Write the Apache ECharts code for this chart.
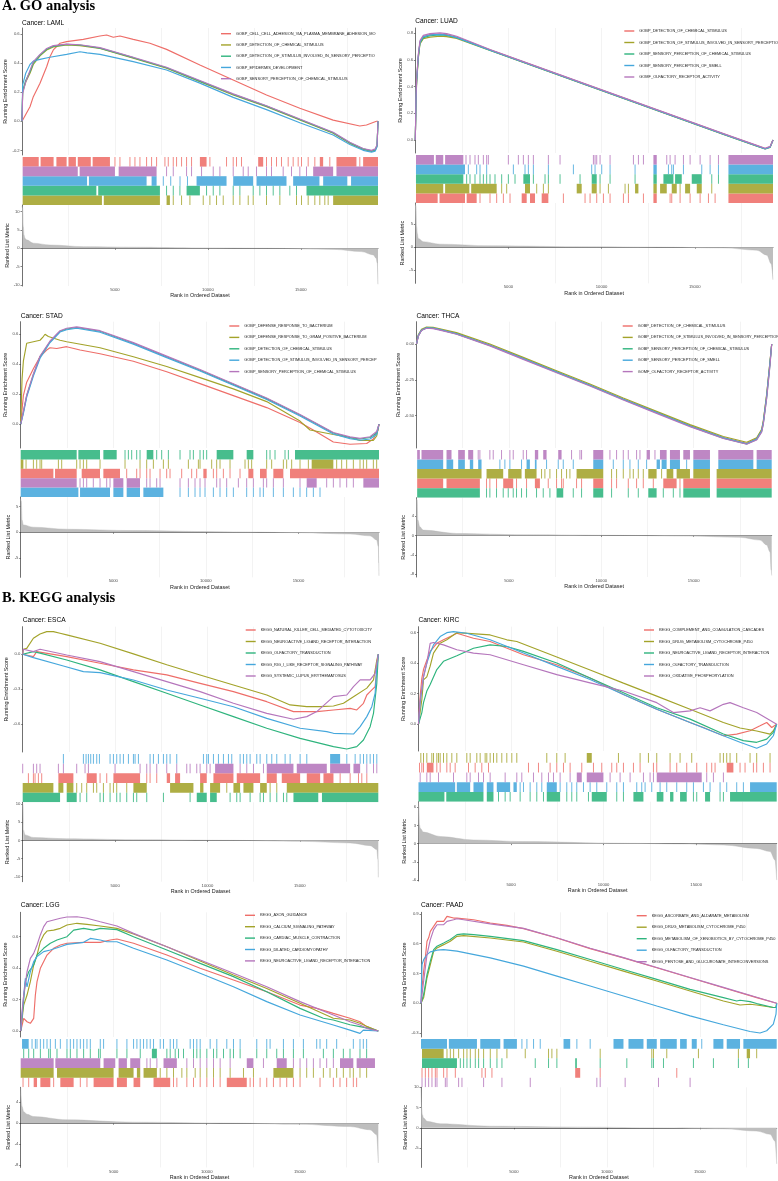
<!DOCTYPE html>
<html><head><meta charset="utf-8">
<script src="https://cdn.jsdelivr.net/npm/echarts@6/dist/echarts.min.js"></script>
<style>html,body{margin:0;padding:0;background:#fff}#c{width:778px;height:1181px}</style>
</head><body><div id="c"></div>
<script>
// ---------------- DATA ----------------
const CANCERS = ['LAML','LUAD','STAD','THCA','ESCA','KIRC','LGG','PAAD'];
const N_GENES = [19150,19200,19350,19225,19250,19350,19225,19140];
const X_TICKS = [5000,10000,15000];

const LAML_SETS = ['GOBP_CELL_CELL_ADHESION_VIA_PLASMA_MEMBRANE_ADHESION_MOLECULES','GOBP_DETECTION_OF_CHEMICAL_STIMULUS','GOBP_DETECTION_OF_STIMULUS_INVOLVED_IN_SENSORY_PERCEPTION','GOBP_EPIDERMIS_DEVELOPMENT','GOBP_SENSORY_PERCEPTION_OF_CHEMICAL_STIMULUS'];
const LUAD_SETS = ['GOBP_DETECTION_OF_CHEMICAL_STIMULUS','GOBP_DETECTION_OF_STIMULUS_INVOLVED_IN_SENSORY_PERCEPTION','GOBP_SENSORY_PERCEPTION_OF_CHEMICAL_STIMULUS','GOBP_SENSORY_PERCEPTION_OF_SMELL','GOMF_OLFACTORY_RECEPTOR_ACTIVITY'];
const STAD_SETS = ['GOBP_DEFENSE_RESPONSE_TO_BACTERIUM','GOBP_DEFENSE_RESPONSE_TO_GRAM_POSITIVE_BACTERIUM','GOBP_DETECTION_OF_CHEMICAL_STIMULUS','GOBP_DETECTION_OF_STIMULUS_INVOLVED_IN_SENSORY_PERCEPTION','GOBP_SENSORY_PERCEPTION_OF_CHEMICAL_STIMULUS'];
const THCA_SETS = ['GOBP_DETECTION_OF_CHEMICAL_STIMULUS','GOBP_DETECTION_OF_STIMULUS_INVOLVED_IN_SENSORY_PERCEPTION','GOBP_SENSORY_PERCEPTION_OF_CHEMICAL_STIMULUS','GOBP_SENSORY_PERCEPTION_OF_SMELL','GOMF_OLFACTORY_RECEPTOR_ACTIVITY'];
const ESCA_SETS = ['KEGG_NATURAL_KILLER_CELL_MEDIATED_CYTOTOXICITY','KEGG_NEUROACTIVE_LIGAND_RECEPTOR_INTERACTION','KEGG_OLFACTORY_TRANSDUCTION','KEGG_RIG_I_LIKE_RECEPTOR_SIGNALING_PATHWAY','KEGG_SYSTEMIC_LUPUS_ERYTHEMATOSUS'];
const KIRC_SETS = ['KEGG_COMPLEMENT_AND_COAGULATION_CASCADES','KEGG_DRUG_METABOLISM_CYTOCHROME_P450','KEGG_NEUROACTIVE_LIGAND_RECEPTOR_INTERACTION','KEGG_OLFACTORY_TRANSDUCTION','KEGG_OXIDATIVE_PHOSPHORYLATION'];
const LGG_SETS = ['KEGG_AXON_GUIDANCE','KEGG_CALCIUM_SIGNALING_PATHWAY','KEGG_CARDIAC_MUSCLE_CONTRACTION','KEGG_DILATED_CARDIOMYOPATHY','KEGG_NEUROACTIVE_LIGAND_RECEPTOR_INTERACTION'];
const PAAD_SETS = ['KEGG_ASCORBATE_AND_ALDARATE_METABOLISM','KEGG_DRUG_METABOLISM_CYTOCHROME_P450','KEGG_METABOLISM_OF_XENOBIOTICS_BY_CYTOCHROME_P450','KEGG_OLFACTORY_TRANSDUCTION','KEGG_PENTOSE_AND_GLUCURONATE_INTERCONVERSIONS'];

// tick labels
const LAML_ES_TICKS=[-0.2,0,0.2,0.4,0.6], LUAD_ES_TICKS=[0,0.2,0.4,0.6,0.8], STAD_ES_TICKS=[0,0.2,0.4,0.6], THCA_ES_TICKS=[-0.5,-0.25,0];
const ESCA_ES_TICKS=[-0.6,-0.3,0], KIRC_ES_TICKS=[0,0.2,0.4,0.6], LGG_ES_TICKS=[0,0.2,0.4,0.6], PAAD_ES_TICKS=[-0.3,0,0.3,0.6,0.9];
const LAML_MET_TICKS=[-10,-5,0,5,10], LUAD_MET_TICKS=[-5,0,5], STAD_MET_TICKS=[-5,0,5], THCA_MET_TICKS=[-8,-4,0,4];
const ESCA_MET_TICKS=[-10,-5,0,5,10], KIRC_MET_TICKS=[-6,-3,0,3,6], LGG_MET_TICKS=[-8,-4,0,4], PAAD_MET_TICKS=[-5,0,5,10];

// running enrichment score curves [rank, ES]
const LAML_ES_RED=[[0,0],[72,0.008],[430,0.1],[609,0.169],[968,0.261],[1326,0.375],[1505,0.444],[1684,0.49],[2043,0.536],[2401,0.547],[3297,0.563],[4193,0.586],[4552,0.593],[4910,0.577],[5268,0.586],[5985,0.563],[6881,0.536],[7777,0.494],[9569,0.387],[11361,0.283],[13153,0.18],[14945,0.089],[16737,0.008],[18171,-0.033],[18530,-0.026],[19067,0.0],[19150,0]];
const LAML_ES_OLIVE=[[0,0],[36,0.2],[200,0.27],[430,0.33],[609,0.39],[968,0.45],[1326,0.49],[1684,0.51],[2401,0.525],[3118,0.52],[4193,0.5],[5985,0.433],[7777,0.364],[9569,0.272],[11361,0.18],[13153,0.1],[14945,0.008],[16737,-0.083],[17633,-0.152],[18350,-0.194],[18800,-0.208],[19000,-0.2],[19100,-0.17],[19150,0]];
const LAML_ES_GREEN=[[0,0],[36,0.21],[200,0.28],[430,0.34],[609,0.4],[968,0.455],[1326,0.495],[1684,0.515],[2401,0.528],[3118,0.524],[4193,0.503],[5985,0.437],[7777,0.368],[9569,0.276],[11361,0.185],[13153,0.104],[14945,0.012],[16737,-0.079],[17633,-0.148],[18350,-0.19],[18800,-0.204],[19000,-0.196],[19100,-0.165],[19150,0]];
const LAML_ES_BLUE=[[0,0],[36,0.25],[200,0.33],[430,0.39],[609,0.414],[968,0.425],[1500,0.44],[2401,0.46],[3118,0.478],[3500,0.47],[4193,0.46],[5985,0.41],[7777,0.352],[9569,0.262],[11361,0.164],[13153,0.08],[14945,-0.01],[16737,-0.095],[17633,-0.16],[18350,-0.2],[18800,-0.212],[19000,-0.205],[19100,-0.175],[19150,0]];
const LAML_ES_PURPLE=[[0,0],[36,0.19],[200,0.27],[430,0.35],[609,0.41],[968,0.46],[1326,0.5],[1684,0.52],[2401,0.53],[3118,0.526],[4193,0.506],[5985,0.44],[7777,0.371],[9569,0.28],[11361,0.188],[13153,0.107],[14945,0.015],[16737,-0.076],[17633,-0.145],[18350,-0.187],[18800,-0.2],[19000,-0.19],[19100,-0.16],[19150,0]];

const LUAD_ES_RED=[[0,0],[36,0.3],[72,0.45],[161,0.63],[251,0.735],[430,0.775],[788,0.79],[1325,0.795],[1683,0.79],[2220,0.772],[4010,0.677],[5800,0.587],[7590,0.497],[9380,0.407],[11170,0.317],[12960,0.227],[14750,0.137],[16540,0.047],[18330,-0.041],[18777,-0.064],[19046,-0.05],[19200,0]];
const LUAD_ES_OLIVE=[[0,0],[36,0.28],[72,0.43],[161,0.61],[251,0.72],[430,0.76],[788,0.772],[1325,0.778],[1683,0.775],[2220,0.762],[4010,0.672],[5800,0.582],[7590,0.492],[9380,0.402],[11170,0.312],[12960,0.222],[14750,0.132],[16540,0.042],[18330,-0.046],[18777,-0.068],[19046,-0.055],[19200,0]];
const LUAD_ES_GREEN=[[0,0],[36,0.29],[72,0.44],[161,0.62],[251,0.728],[430,0.768],[788,0.782],[1325,0.788],[1683,0.784],[2220,0.768],[4010,0.674],[5800,0.584],[7590,0.494],[9380,0.404],[11170,0.314],[12960,0.224],[14750,0.134],[16540,0.044],[18330,-0.044],[18777,-0.066],[19046,-0.053],[19200,0]];
const LUAD_ES_BLUE=[[0,0],[36,0.3],[72,0.45],[161,0.63],[251,0.735],[430,0.775],[788,0.788],[1325,0.792],[1683,0.787],[2220,0.768],[4010,0.673],[5800,0.583],[7590,0.493],[9380,0.403],[11170,0.313],[12960,0.223],[14750,0.133],[16540,0.043],[18330,-0.045],[18777,-0.067],[19046,-0.054],[19200,0]];
const LUAD_ES_PURPLE=[[0,0],[36,0.31],[72,0.46],[161,0.64],[251,0.745],[430,0.785],[788,0.798],[1325,0.803],[1683,0.798],[2220,0.778],[4010,0.679],[5800,0.588],[7590,0.498],[9380,0.408],[11170,0.318],[12960,0.228],[14750,0.138],[16540,0.048],[18330,-0.04],[18777,-0.062],[19046,-0.048],[19200,0]];

const STAD_ES_RED=[[0,0],[144,0.19],[324,0.28],[684,0.37],[1044,0.45],[1404,0.495],[1584,0.51],[1944,0.505],[2484,0.517],[3204,0.495],[4284,0.47],[6084,0.42],[7884,0.35],[9684,0.27],[11484,0.19],[13284,0.11],[15084,0.01],[15800,-0.04],[16884,-0.12],[17784,-0.135],[18684,-0.13],[19044,-0.1],[19300,-0.04],[19350,0]];
const STAD_ES_OLIVE=[[0,0],[72,0.3],[144,0.42],[324,0.54],[684,0.55],[1044,0.56],[1224,0.585],[1314,0.6],[1494,0.585],[1584,0.575],[2124,0.56],[2484,0.55],[3384,0.53],[4284,0.51],[5184,0.48],[6084,0.45],[7884,0.385],[9684,0.31],[11484,0.235],[13284,0.15],[15084,0.02],[15624,-0.04],[16884,-0.07],[17784,-0.09],[18324,-0.11],[19044,-0.11],[19224,-0.08],[19350,0]];
const STAD_ES_GREEN=[[0,0],[144,0.08],[324,0.19],[684,0.33],[1044,0.45],[1584,0.55],[2124,0.62],[2484,0.635],[3024,0.645],[4284,0.62],[6084,0.54],[7884,0.45],[9684,0.36],[11484,0.265],[13284,0.17],[15084,0.06],[16884,-0.06],[17784,-0.09],[18324,-0.1],[18864,-0.09],[19224,-0.06],[19350,0]];
const STAD_ES_BLUE=[[0,0],[144,0.07],[324,0.18],[684,0.32],[1044,0.44],[1584,0.545],[2124,0.615],[2484,0.63],[3024,0.64],[4284,0.614],[6084,0.534],[7884,0.444],[9684,0.354],[11484,0.259],[13284,0.164],[15084,0.054],[16884,-0.066],[17784,-0.097],[18324,-0.108],[18864,-0.1],[19224,-0.07],[19350,0]];
const STAD_ES_PURPLE=[[0,0],[144,0.085],[324,0.195],[684,0.335],[1044,0.455],[1584,0.555],[2124,0.624],[2484,0.64],[3024,0.649],[4284,0.624],[6084,0.544],[7884,0.454],[9684,0.364],[11484,0.269],[13284,0.174],[15084,0.064],[16884,-0.056],[17784,-0.086],[18324,-0.096],[18864,-0.085],[19224,-0.05],[19350,0]];

const THCA_ES_RED=[[0,0],[100,0.06],[271,0.098],[541,0.114],[900,0.112],[1264,0.102],[2166,0.074],[3971,-0.007],[5776,-0.1],[7581,-0.193],[9386,-0.286],[11191,-0.384],[12996,-0.477],[14801,-0.57],[16606,-0.653],[17870,-0.693],[18411,-0.66],[18682,-0.6],[18772,-0.54],[18953,-0.356],[19133,-0.123],[19225,0]];
const THCA_ES_OLIVE=[[0,0],[100,0.065],[271,0.103],[541,0.118],[900,0.116],[1264,0.107],[2166,0.08],[3971,0.0],[5776,-0.093],[7581,-0.186],[9386,-0.279],[11191,-0.377],[12996,-0.47],[14801,-0.563],[16606,-0.646],[17870,-0.686],[18411,-0.655],[18682,-0.595],[18772,-0.535],[18953,-0.35],[19133,-0.12],[19225,0]];
const THCA_ES_GREEN=[[0,0],[100,0.058],[271,0.096],[541,0.112],[900,0.11],[1264,0.1],[2166,0.071],[3971,-0.01],[5776,-0.103],[7581,-0.196],[9386,-0.289],[11191,-0.387],[12996,-0.48],[14801,-0.573],[16606,-0.657],[17870,-0.698],[18411,-0.667],[18682,-0.61],[18772,-0.555],[18953,-0.375],[19133,-0.14],[19225,0]];
const THCA_ES_BLUE=[[0,0],[100,0.059],[271,0.097],[541,0.113],[900,0.111],[1264,0.101],[2166,0.072],[3971,-0.009],[5776,-0.102],[7581,-0.195],[9386,-0.288],[11191,-0.386],[12996,-0.479],[14801,-0.572],[16606,-0.655],[17870,-0.696],[18411,-0.664],[18682,-0.605],[18772,-0.545],[18953,-0.36],[19133,-0.128],[19225,0]];
const THCA_ES_PURPLE=[[0,0],[100,0.055],[271,0.094],[541,0.11],[900,0.108],[1264,0.097],[2166,0.068],[3971,-0.013],[5776,-0.107],[7581,-0.2],[9386,-0.293],[11191,-0.391],[12996,-0.484],[14801,-0.577],[16606,-0.66],[17870,-0.7],[18411,-0.67],[18682,-0.615],[18772,-0.56],[18953,-0.38],[19133,-0.15],[19225,0]];

const ESCA_ES_RED=[[0,0],[36,0.01],[578,-0.02],[758,0.023],[2383,-0.02],[4188,-0.077],[5993,-0.134],[7798,-0.177],[9603,-0.249],[11408,-0.32],[13213,-0.406],[14657,-0.491],[15920,-0.491],[16823,-0.477],[17725,-0.463],[18086,-0.477],[18447,-0.42],[18628,-0.349],[18808,-0.32],[19079,-0.277],[19169,-0.134],[19250,0]];
const ESCA_ES_OLIVE=[[0,0],[36,0.043],[217,0.05],[578,0.137],[939,0.174],[1300,0.194],[1661,0.194],[2022,0.18],[2383,0.166],[4188,0.094],[5993,0.003],[7798,-0.09],[9603,-0.177],[11408,-0.263],[13213,-0.349],[14476,-0.434],[15379,-0.449],[16101,-0.449],[16823,-0.443],[17364,-0.42],[17906,-0.363],[18628,-0.29],[18989,-0.22],[19169,-0.05],[19250,0]];
const ESCA_ES_GREEN=[[0,0],[578,0.023],[939,0.01],[2383,-0.049],[4188,-0.134],[5993,-0.234],[7798,-0.334],[9603,-0.434],[11408,-0.534],[13213,-0.634],[15018,-0.72],[16823,-0.791],[17545,-0.811],[18086,-0.791],[18447,-0.734],[18808,-0.62],[18989,-0.506],[19169,-0.249],[19250,0]];
const ESCA_ES_BLUE=[[0,0],[578,-0.029],[2202,-0.1],[3285,-0.149],[4188,-0.157],[5993,-0.22],[7798,-0.306],[9603,-0.377],[11408,-0.449],[13213,-0.549],[15018,-0.634],[16462,-0.663],[16823,-0.677],[17906,-0.683],[18267,-0.62],[18628,-0.534],[18898,-0.449],[19079,-0.334],[19169,-0.106],[19250,0]];
const ESCA_ES_PURPLE=[[0,0],[36,0.043],[578,0.023],[939,0.043],[2383,-0.006],[4188,-0.063],[5993,-0.149],[7798,-0.234],[9603,-0.32],[11408,-0.42],[13213,-0.506],[14657,-0.557],[15379,-0.534],[15920,-0.491],[16823,-0.363],[17545,-0.349],[17906,-0.277],[18267,-0.22],[18808,-0.22],[19079,-0.163],[19169,-0.077],[19250,0]];

const KIRC_ES_RED=[[0,0],[90,0.184],[180,0.3],[270,0.358],[450,0.42],[630,0.477],[990,0.53],[1350,0.553],[1890,0.585],[2070,0.596],[2970,0.563],[3870,0.542],[5670,0.455],[7470,0.39],[9270,0.303],[11070,0.195],[12870,0.098],[14670,0.011],[15390,-0.022],[16470,-0.076],[17190,-0.065],[17910,-0.043],[18450,-0.011],[18810,0.011],[19080,-0.022],[19350,0]];
const KIRC_ES_OLIVE=[[0,0],[180,0.16],[270,0.29],[450,0.31],[630,0.38],[810,0.466],[1170,0.531],[1530,0.553],[1890,0.585],[2070,0.6],[3870,0.585],[4770,0.553],[5310,0.542],[7470,0.44],[9270,0.355],[11070,0.269],[12870,0.184],[14670,0.098],[16470,0.011],[17370,-0.025],[18270,-0.045],[18990,-0.065],[19170,-0.043],[19350,0]];
const KIRC_ES_GREEN=[[0,0],[180,0.076],[270,0.141],[450,0.217],[630,0.26],[990,0.358],[1350,0.412],[2070,0.449],[2970,0.498],[3870,0.52],[4770,0.509],[5670,0.477],[7470,0.401],[9270,0.303],[11070,0.206],[12870,0.108],[14670,0.033],[16470,-0.065],[17550,-0.108],[18270,-0.119],[18810,-0.098],[19170,-0.054],[19350,0]];
const KIRC_ES_BLUE=[[0,0],[90,0.14],[270,0.31],[450,0.4],[630,0.466],[810,0.52],[1170,0.574],[1530,0.6],[1890,0.607],[2610,0.596],[3870,0.553],[5670,0.466],[7470,0.379],[9270,0.293],[11070,0.195],[12870,0.098],[14670,0.011],[16470,-0.076],[17370,-0.119],[18270,-0.158],[18810,-0.13],[19170,-0.076],[19350,0]];
const KIRC_ES_PURPLE=[[0,0],[90,0.16],[270,0.31],[450,0.4],[630,0.53],[810,0.535],[1350,0.52],[2070,0.488],[2970,0.466],[3870,0.455],[5670,0.39],[7470,0.325],[9270,0.271],[11070,0.217],[12870,0.141],[13770,0.076],[14670,0.087],[15210,0.108],[15750,0.087],[16470,0.13],[16830,0.141],[17550,0.108],[18270,0.076],[19350,0]];

const LGG_ES_RED=[[0,0],[161,0.08],[340,0.059],[519,0.049],[698,0.08],[788,0.229],[877,0.314],[1056,0.399],[1414,0.483],[1772,0.526],[2130,0.547],[2488,0.558],[3383,0.564],[4278,0.564],[4815,0.579],[5173,0.585],[6068,0.558],[7858,0.483],[9648,0.399],[11438,0.324],[13228,0.25],[15018,0.165],[15913,0.144],[16808,0.112],[17703,0.081],[18240,0.059],[18598,0.028],[19225,0]];
const LGG_ES_OLIVE=[[0,0],[161,0.165],[340,0.229],[519,0.314],[698,0.42],[877,0.483],[1056,0.568],[1235,0.611],[1414,0.636],[1772,0.642],[2130,0.653],[2488,0.674],[3025,0.685],[3562,0.678],[4278,0.668],[5173,0.653],[6068,0.617],[7858,0.536],[9648,0.445],[11438,0.356],[13228,0.271],[15018,0.176],[16808,0.081],[17703,0.07],[18240,0.049],[18598,0.03],[19225,0]];
const LGG_ES_GREEN=[[0,0],[161,0.2],[251,0.314],[430,0.377],[698,0.42],[877,0.483],[1235,0.526],[1593,0.558],[1951,0.579],[2488,0.6],[2846,0.642],[3383,0.653],[3920,0.642],[4278,0.653],[5173,0.645],[6068,0.6],[7858,0.515],[9648,0.43],[11438,0.346],[13228,0.25],[15018,0.144],[16271,0.081],[16808,0.07],[17703,0.04],[18240,0.028],[18598,0.02],[19225,0]];
const LGG_ES_BLUE=[[0,0],[72,0.1],[161,0.229],[251,0.335],[340,0.28],[519,0.377],[698,0.441],[877,0.473],[1235,0.505],[1593,0.515],[2130,0.536],[2488,0.551],[3383,0.564],[3741,0.589],[4278,0.579],[4636,0.568],[5173,0.568],[6068,0.526],[7858,0.452],[9648,0.367],[11438,0.282],[13228,0.187],[15018,0.102],[16808,0.038],[17703,0.006],[18240,-0.015],[18419,0.006],[19225,0]];
const LGG_ES_PURPLE=[[0,0],[72,0.123],[161,0.229],[340,0.377],[519,0.462],[698,0.494],[877,0.547],[1056,0.611],[1235,0.664],[1414,0.695],[1772,0.706],[2130,0.717],[2488,0.725],[3025,0.727],[3562,0.717],[4278,0.695],[5173,0.668],[6068,0.621],[7858,0.536],[9648,0.452],[11438,0.367],[13228,0.282],[15018,0.187],[16808,0.102],[17703,0.059],[18240,0.038],[18598,0.017],[19225,0]];

const PAAD_ES_RED=[[0,0],[54,0.157],[143,0.324],[233,0.46],[323,0.625],[412,0.66],[502,0.725],[681,0.775],[860,0.826],[1219,0.826],[1398,0.876],[1756,0.859],[1935,0.859],[2831,0.842],[3727,0.809],[4623,0.785],[5519,0.752],[7311,0.658],[9103,0.551],[10895,0.458],[12687,0.358],[14479,0.257],[16271,0.157],[18063,0.057],[19140,0]];
const PAAD_ES_OLIVE=[[0,0],[143,0.057],[323,0.257],[502,0.39],[681,0.524],[860,0.558],[1219,0.591],[1577,0.625],[1935,0.675],[2294,0.682],[3727,0.658],[5519,0.618],[7311,0.525],[9103,0.424],[10895,0.324],[12687,0.224],[14479,0.124],[16271,0.023],[17167,-0.017],[17705,-0.01],[18063,-0.017],[18959,-0.043],[19100,-0.04],[19140,0]];
const PAAD_ES_GREEN=[[0,0],[143,0.09],[323,0.29],[502,0.424],[681,0.541],[860,0.575],[1219,0.608],[1577,0.642],[1935,0.692],[2294,0.699],[2831,0.692],[3727,0.675],[5519,0.632],[7311,0.541],[9103,0.441],[10895,0.341],[12687,0.241],[14479,0.14],[16271,0.057],[16988,0.023],[17167,0.03],[17705,0.017],[18063,-0.003],[18959,-0.043],[19100,-0.043],[19140,0]];
const PAAD_ES_BLUE=[[0,0],[54,0.39],[143,0.44],[323,0.49],[502,0.518],[860,0.535],[1219,0.541],[1935,0.525],[3727,0.458],[5519,0.374],[7311,0.274],[9103,0.174],[10895,0.074],[12687,-0.027],[14479,-0.127],[16271,-0.217],[17705,-0.284],[18243,-0.3],[18601,-0.277],[18959,-0.21],[19102,-0.11],[19140,0]];
const PAAD_ES_PURPLE=[[0,0],[143,0.224],[323,0.49],[502,0.642],[681,0.742],[860,0.792],[1219,0.792],[1398,0.826],[1756,0.842],[1935,0.852],[2294,0.842],[3727,0.8],[5519,0.755],[7311,0.66],[9103,0.555],[10895,0.46],[12687,0.36],[14479,0.26],[16271,0.16],[18063,0.06],[19140,0]];

// gene-set hits (rank, or [first rank, last rank] of a dense run)
const LAML_HITS_RED=[[36,900],[1000,1700],[1850,2400],[2500,2900],[3000,3700],[3800,4731],5000,5268,5806,6075,6344,6702,6971,7240,7688,7867,8136,8315,8584,8853,9121,[9569,9928],10107,11003,11361,11540,11809,[12705,12974],13153,13422,13691,13960,14318,14586,14855,15035,15393,15752,[16020,16199],16558,[16916,17991],18171,[18350,19150]];
const LAML_HITS_PURPLE=[[36,3000],[3100,5000],[5200,7240],7777,8136,8853,9121,9659,10286,10644,11361,11899,12168,12616,13153,13422,14049,14497,14945,15304,[15662,16737],[16916,19150]];
const LAML_HITS_BLUE=[[36,3500],[3600,6702],[6971,7240],7600,8000,8500,8900,[9390,11003],[11361,12436],[12616,14228],[14586,16000],[16200,17500],[17700,19150]];
const LAML_HITS_GREEN=[[36,4000],[4100,7419],7777,8136,8494,[8853,9569],9928,10286,10644,11361,11720,12436,12795,13153,13512,13870,14407,14766,[15304,19150]];
const LAML_HITS_OLIVE=[[36,4300],[4400,7419],[7777,7956],8136,8584,9032,9748,10107,10465,10824,11361,11720,12168,12436,13153,13870,14766,15035,15393,15752,16020,16289,16468,[16737,19150]];

const LUAD_HITS_RED=[[36,1200],[1300,2667],[2757,3294],3473,4010,4368,4726,5084,[5710,5979],[6158,6426],[6784,7142],7948,9111,9380,9738,10096,10454,11170,11438,12244,[12781,12960],13676,13765,14213,14750,15287,15734,16092,[16808,19200]];
const LUAD_HITS_OLIVE=[[36,1500],[1600,2900],[3000,4368],4636,4905,[5889,6158],6516,6874,7142,[8664,8932],[9469,9738],9917,10364,11259,11438,[11796,11975],[12781,12960],[13139,13497],[13765,14034],14213,[14482,14750],[15108,15376],15913,[16808,19200]];
const LUAD_HITS_GREEN=[[36,2578],2757,2936,3204,3473,3652,3831,4010,4278,4636,4994,5352,[5800,6158],6337,6963,7142,7769,8843,[9469,9738],9917,10454,11796,[12781,12960],[13318,13855],[13944,14302],[14839,15376],15913,16271,[16808,19200]];
const LUAD_HITS_BLUE=[[36,2667],2846,3294,3473,3831,5263,5889,6068,6337,7142,8485,9469,9648,10006,10454,11796,[12781,12960],13586,13765,13855,14392,15376,15824,16271,[16808,19200]];
const LUAD_HITS_PURPLE=[[36,1000],[1100,1500],[1600,2578],2721,2936,3204,3383,3652,3831,3920,4994,5531,5800,6068,6337,7142,7769,9559,9648,9738,9917,10454,11707,11975,12244,[12781,12960],13497,13676,13944,14392,14750,15287,15824,16271,[16808,19200]];

const STAD_HITS_RED=[[0,1764],[1854,3024],[3294,4284],[4464,5364],5724,6264,6444,6804,6984,7524,7884,8064,8694,9234,9504,[9864,10044],10404,10584,10944,11304,11844,[12294,12564],[12924,13284],[13644,14184],[14544,19350]];
const STAD_HITS_OLIVE=[[0,144],288,684,864,1044,1134,2034,2214,3024,3204,3384,3564,4284,5634,6444,6804,7164,7704,7974,9054,9594,9684,10314,10584,10764,11304,12114,12294,12474,13284,13554,14184,14364,14634,15084,15534,[15714,16884],17064,17334,17604,17964,18324,18504,18684,19044,19224];
const STAD_HITS_GREEN=[[0,3024],[3114,4284],[4464,5184],5634,5814,5994,6264,6444,[6804,7164],7344,7614,7974,8604,9144,9324,9684,9864,10044,[10584,11484],[12204,12564],13284,13464,13734,14274,14454,[14814,19350]];
const STAD_HITS_BLUE=[[0,3114],[3204,4824],[5004,5544],[5724,6444],[6624,7704],8604,9054,9414,9684,9954,10404,10764,11124,11484,12204,12564,12924,13104,13644,14184,14724,15084,15444,15804,16164];
const STAD_HITS_PURPLE=[[0,3024],3204,3384,3564,3920,4284,4644,4824,[5004,5544],[5724,6444],6804,6984,7344,7524,8604,9054,9414,9684,9954,10584,10764,11124,11754,12204,12564,13104,13284,13644,14184,15084,[15444,15984],16524,16884,17244,17604,17964,[18504,19350]];

const THCA_HITS_RED=[[36,1444],[1625,3430],3791,3971,4332,[4693,5235],5415,5957,[6408,6679],7130,7581,7852,7942,8664,8935,[9567,10108],10559,10830,11462,11913,12274,12816,[13357,14079],14260,[14440,15884],[16245,19225]];
const THCA_HITS_OLIVE=[[36,3520],[3791,4693],[4964,5686],[5866,6498],6769,6949,7220,7581,7852,8123,8303,[8664,10108],10559,10830,11191,11552,11733,12003,12274,[12545,12996],13267,[13538,13899],[14079,14801],[14982,15884],[16245,19225]];
const THCA_HITS_GREEN=[[36,3430],3791,3971,4332,4693,4964,5235,5415,5686,5957,6498,6859,7220,[7581,7942],8484,8935,[9567,10108],10559,11462,12003,[12545,12996],13357,13899,14260,[14440,15884],[16245,19225]];
const THCA_HITS_BLUE=[[36,1444],[1625,1986],[2256,2617],[2888,3069],[3339,3520],4513,4783,5054,5686,[5957,6137],[6408,6498],7040,7671,7942,8484,[9567,10108],10650,11191,11552,12003,12455,[12996,13177],[13267,13538],[13718,14260],14621,[14982,15884],[16335,18231],[18411,19225]];
const THCA_HITS_PURPLE=[[36,181],[271,1444],[1625,1895],[2256,2617],[2798,3069],3339,3430,3971,4152,4603,5054,5235,5776,5957,[6408,6588],[6859,7040],[7671,7852],8393,8845,8935,[9567,10108],10469,10830,11191,11462,11913,12094,[12455,12635],12906,[13177,13538],[13718,14260],[14440,14801],[14982,15884],[16335,18231],[18411,19225]];

const ESCA_HITS_RED=[307,578,668,848,1029,[1931,2744],[3466,4007],4188,4549,[4910,6354],6715,6895,7256,[7798,7978],[8249,8520],[9603,9964],[10325,11408],[11588,12852],[13213,13754],[14025,15018],[15379,16101],[16281,16823],17184,17725,18176,18357,18628];
const ESCA_HITS_OLIVE=[[0,1661],[1931,2202],[2383,2744],2924,3195,3466,3827,4007,4368,4729,4910,5090,5632,[5993,6715],[7978,9242],[9603,9783],[10144,10686],11047,[11408,11769],[11949,12491],[12852,13213],13393,13754,[14296,19250]];
const ESCA_HITS_GREEN=[[0,2022],[2383,2924],3105,3466,4188,4368,4729,5090,5271,5632,5993,6173,6715,7617,9061,[9422,9964],[10144,10505],11227,11588,11769,12310,12852,13032,13393,13754,14115,14296,[14657,16000],[16200,19250]];
const ESCA_HITS_BLUE=[2202,3285,3430,3556,3682,3827,4007,4152,4729,4910,5090,5271,5451,5722,5993,6083,6263,6895,7076,7346,7617,7798,7978,8339,9783,9964,10054,10325,10595,10866,11137,11317,11769,11949,12130,12310,12671,12852,13213,13483,13754,14205,14476,15018,15379,[16642,17184],17545,17996,18267,18447,18628,18808,18989,19169];
const ESCA_HITS_PURPLE=[0,578,758,939,1931,2202,2924,3375,3556,5000,6354,6715,6895,7256,7798,8339,8881,9061,9422,9603,9964,10144,[10415,11408],11769,12130,12491,13032,[13213,14657],[14837,16462],[16642,17725],[17906,18267],18628,18989,19169];

const KIRC_HITS_RED=[54,180,270,[450,810],990,1170,1530,1710,1980,2700,3060,3420,3780,5940,6480,7110,7470,7830,8190,8820,9450,9900,10440,10710,11070,11610,11970,12690,12870,13590,13950,14490,15030,15570,15840,16020,[16650,17010],17370,17640,18090,18270,18630,18990];
const KIRC_HITS_OLIVE=[126,270,450,720,810,990,1080,1170,1350,1530,1800,2070,2610,2790,3150,3330,3600,3690,3870,4050,4230,4500,4770,5040,5310,6930,7470,7920,[9090,9360],10800,11970,12420,12870,13590,14130,14760,16290,16470,16650,16830,17190,17910,18270,18990];
const KIRC_HITS_GREEN=[[0,1400],[1500,3510],[3690,4050],4320,4680,4950,5490,6030,6390,6750,[6930,7650],8010,8280,8550,9180,[9360,10170],10710,11070,[11610,12150],[12870,13230],[13590,13770],[14130,14490],14850,15030,[15480,15750],16290,16470,[16830,19350]];
const KIRC_HITS_BLUE=[[0,1980],[2070,2790],[2970,3510],[3690,4050],[4230,4950],[5130,5310],5490,5670,6030,6390,6660,[6930,7470],7650,8010,8280,8550,8910,9270,9630,10170,10710,11070,11790,12060,12240,12600,13050,13410,13950,14490,14850,15390,15750,16290,16650,17190,17550,[17910,19350]];
const KIRC_HITS_PURPLE=[90,450,630,1080,1890,2610,2790,3240,3510,3870,4680,5310,5580,6210,6660,7020,7290,7650,8190,[8550,8820],[9090,9990],10350,10890,11430,12150,12510,12690,[12870,15300],15570,15930,16470];

const LGG_HITS_RED=[125,430,[698,877],[1056,1593],1772,[2130,2846],3204,3562,[3920,4994],[5173,5710],[6068,6426],[7142,8037],8216,8395,8932,9290,9648,10006,10364,10722,[11080,12154],12333,12512,12870,13228,13586,13944,14302,14660,15018,16092,16808,17166,17524,17882,18061];
const LGG_HITS_OLIVE=[[0,1772],[1951,4994],[5263,6068],[6247,6426],[6605,7321],7500,7858,8216,8664,8932,9380,9648,10006,10364,10722,11259,11975,12512,[13586,14660],15018,15376,15734,16271,16629,16987,17345,17703,17882,18240,18598];
const LGG_HITS_GREEN=[161,430,698,1056,1504,1593,1951,2488,2667,3025,3383,3741,4189,4278,5173,5710,6426,[7053,7321],7858,8037,8306,8485,8753,9290,9469,9648,10006,10364,10543,10901,11259,11438,11796,12691,13228,13765,14123,14660,15197,16271,16808,17345,17703,18240,18598];
const LGG_HITS_BLUE=[[72,430],609,788,877,1056,1235,1414,1593,1862,2130,2488,2667,2846,3025,3204,3383,3562,3741,4278,4457,5173,5710,6068,6247,6426,6605,6784,6963,7142,7500,7679,8037,8216,8395,9111,9290,9469,9648,10185,10543,11080,11438,11796,12691,13228,13407,14123,14660,15197,15913,16092,16450,16987,17882,18240,18419,18598];
const LGG_HITS_PURPLE=[[0,1772],[1862,4278],[4457,5084],[5263,5710],[5889,6426],6784,6963,7321,[7679,8395],8932,9290,9648,10006,10364,10722,11259,[12154,12512],13049,[13765,14302],14660,15018,15376,15734,16092,16450,16808,[17166,17882],[18061,19046]];

const PAAD_HITS_RED=[54,233,412,590,770,860,1219,1398,1846,3279,3459,3817,[8297,8566],9641,13763];
const PAAD_HITS_OLIVE=[[54,1219],1398,1577,1756,2025,2294,2473,2652,2921,3100,3369,3727,4086,4623,5609,6863,7043,7311,9641,12419,12508,13225,14927,17078,[17526,17705],18063];
const PAAD_HITS_GREEN=[[54,1935],2115,2294,2473,2652,2921,3100,3369,3727,4086,4355,6147,6863,7311,[8297,8387],9641,11075,12419,12508,13046,14658,15734,17078,17615];
const PAAD_HITS_BLUE=[[0,1400],[1500,3011],[3190,4265],[4444,5161],5430,5699,6057,6415,[7670,8028],8387,9103,[10358,10895],[11164,11971],[12150,12687],[12867,13763],[13942,14300],[14569,14838],15107,[15734,16271],[16451,17167],[17346,19140]];
const PAAD_HITS_PURPLE=[54,233,412,590,770,860,1308,1398,2025,2204,3369,4355,5878,9462,9641,10985,12777,14479];

// row order of the hit strips (top to bottom), as indices into each panel's set list
const LAML_ROWS=[0,4,3,2,1], LUAD_ROWS=[4,3,2,1,0], STAD_ROWS=[2,1,0,4,3], THCA_ROWS=[4,3,1,0,2];
const ESCA_ROWS=[3,4,0,1,2], KIRC_ROWS=[1,0,4,3,2], LGG_ROWS=[3,2,4,1,0], PAAD_ROWS=[3,1,2,0,4];

// ranked list metric [rank, metric]
const LAML_METRIC=[[0,11.5],[36,10.9],[72,5.9],[108,3.6],[162,2.7],[252,2.3],[609,1.4],[1512,0.9],[3312,0.45],[6012,0.3],[9612,0.1],[13212,0],[16812,-0.3],[18252,-0.9],[18900,-1.8],[19050,-2.7],[19110,-4],[19150,-9.8]];
const LUAD_METRIC=[[0,9.4],[36,9.0],[72,4.5],[108,3.0],[161,1.9],[430,1.2],[1325,0.66],[4010,0.3],[9380,0.07],[12960,0],[16540,-0.15],[18330,-0.66],[18870,-1.75],[19100,-3.6],[19200,-7.1]];
const STAD_METRIC=[[0,6.6],[36,6.0],[72,2.4],[144,1.44],[684,1.0],[2484,0.6],[6084,0.33],[11484,0.07],[15084,-0.07],[17784,-0.33],[18864,-0.7],[19224,-1.5],[19314,-2.8],[19340,-6],[19350,-8.5]];
const THCA_METRIC=[[0,7.6],[36,7.3],[72,3.2],[180,1.8],[361,1.1],[2166,0.4],[5776,0.14],[11191,0],[14801,-0.14],[17509,-0.4],[18592,-0.97],[18953,-2],[19133,-3.4],[19200,-7.2],[19225,-8.3]];
const ESCA_METRIC=[[0,10.3],[20,9.7],[36,2.9],[126,1.5],[578,0.8],[2383,0.45],[6000,0.18],[11400,0],[15020,-0.27],[17725,-0.7],[18808,-1.45],[19169,-2.5],[19230,-5.3],[19250,-10.2]];
const KIRC_METRIC=[[0,6.8],[18,6.2],[54,3.1],[90,2.55],[270,1.9],[1170,1.17],[2970,0.6],[5670,0.33],[11070,0.05],[14670,-0.05],[16470,-0.22],[18270,-0.8],[18990,-1.3],[19260,-2.7],[19350,-6.0]];
const LGG_METRIC=[[0,6.8],[18,6.7],[72,3.2],[161,2.2],[340,1.7],[698,1.27],[2488,0.64],[6068,0.19],[11438,0],[15018,-0.2],[17703,-0.64],[18777,-1.27],[19135,-2.2],[19225,-7.6]];
const PAAD_METRIC=[[0,9.9],[18,9.8],[36,4.9],[72,3.25],[143,2.4],[323,1.6],[1040,1.0],[3727,0.4],[9103,0.16],[12687,0],[16271,-0.24],[18063,-0.8],[18780,-1.6],[19049,-3.25],[19140,-8.9]];

// ---------------- LAYOUT & STYLE (pixels) ----------------
const SET_COLORS=['#EE6E69','#A3A32A','#2EB47D','#45A7DC','#B576BC'];
const LAYOUT=[
 {left:22,right:378,esTop:28,esBottom:155,esMin:-0.232,esMax:0.641,hitTop:157,hitBottom:205,metTop:205,metBottom:286,metMin:-10.27,metMax:11.8,titleTop:20.3,legX:221,legY:33.7,legPitch:11.25,legW:142,nameGap:11,dec:1},
 {left:415.3,right:773,esTop:28,esBottom:153,esMin:-0.0975,esMax:0.84,hitTop:155,hitBottom:203,metTop:203,metBottom:283.3,metMin:-7.9,metMax:9.66,titleTop:17.8,legX:624.3,legY:31,legPitch:11.5,legW:0,nameGap:8.6,dec:1},
 {left:20.7,right:379,esTop:321.7,esBottom:448,esMin:-0.16,esMax:0.684,hitTop:450,hitBottom:497,metTop:497,metBottom:577.3,metMin:-8.8,metMax:6.9,titleTop:313.2,legX:229.3,legY:326,legPitch:11.4,legW:134.7,nameGap:9,dec:1},
 {left:416.5,right:771.7,esTop:321.7,esBottom:448,esMin:-0.726,esMax:0.156,hitTop:450,hitBottom:497.7,metTop:497.7,metBottom:577,metMin:-8.6,metMax:7.8,titleTop:312.8,legX:622.7,legY:326,legPitch:11.4,legW:0,nameGap:9.8,dec:2},
 {left:22.7,right:378.3,esTop:626.7,esBottom:752,esMin:-0.837,esMax:0.236,hitTop:754,hitBottom:802.3,metTop:802.3,metBottom:881.7,metMin:-11.4,metMax:10.5,titleTop:617,legX:245.7,legY:630,legPitch:11.5,legW:0,nameGap:11,dec:1},
 {left:418.5,right:776.7,esTop:626.7,esBottom:751,esMin:-0.176,esMax:0.639,hitTop:753,hitBottom:801.7,metTop:801.7,metBottom:881,metMin:-6.15,metMax:6.9,titleTop:617,legX:644,legY:630,legPitch:11.5,legW:0,nameGap:10.8,dec:1},
 {left:20.7,right:378.3,esTop:912.3,esBottom:1037,esMin:-0.038,esMax:0.755,hitTop:1039,hitBottom:1087.3,metTop:1087.3,metBottom:1167.7,metMin:-8.45,metMax:6.86,titleTop:902.3,legX:245,legY:915.3,legPitch:11.4,legW:0,nameGap:9,dec:1},
 {left:421,right:776.7,esTop:912.3,esBottom:1037,esMin:-0.34,esMax:0.917,hitTop:1039,hitBottom:1087.3,metTop:1087.3,metBottom:1168.3,metMin:-9.76,metMax:10.0,titleTop:902.3,legX:636.7,legY:915.7,legPitch:11.5,legW:0,nameGap:12.3,dec:1}
];

// ---------------- BUILD ----------------
const PANELS=[
 {sets:LAML_SETS,es:[LAML_ES_RED,LAML_ES_OLIVE,LAML_ES_GREEN,LAML_ES_BLUE,LAML_ES_PURPLE],hits:[LAML_HITS_RED,LAML_HITS_OLIVE,LAML_HITS_GREEN,LAML_HITS_BLUE,LAML_HITS_PURPLE],rows:LAML_ROWS,metric:LAML_METRIC,esTicks:LAML_ES_TICKS,metTicks:LAML_MET_TICKS},
 {sets:LUAD_SETS,es:[LUAD_ES_RED,LUAD_ES_OLIVE,LUAD_ES_GREEN,LUAD_ES_BLUE,LUAD_ES_PURPLE],hits:[LUAD_HITS_RED,LUAD_HITS_OLIVE,LUAD_HITS_GREEN,LUAD_HITS_BLUE,LUAD_HITS_PURPLE],rows:LUAD_ROWS,metric:LUAD_METRIC,esTicks:LUAD_ES_TICKS,metTicks:LUAD_MET_TICKS},
 {sets:STAD_SETS,es:[STAD_ES_RED,STAD_ES_OLIVE,STAD_ES_GREEN,STAD_ES_BLUE,STAD_ES_PURPLE],hits:[STAD_HITS_RED,STAD_HITS_OLIVE,STAD_HITS_GREEN,STAD_HITS_BLUE,STAD_HITS_PURPLE],rows:STAD_ROWS,metric:STAD_METRIC,esTicks:STAD_ES_TICKS,metTicks:STAD_MET_TICKS},
 {sets:THCA_SETS,es:[THCA_ES_RED,THCA_ES_OLIVE,THCA_ES_GREEN,THCA_ES_BLUE,THCA_ES_PURPLE],hits:[THCA_HITS_RED,THCA_HITS_OLIVE,THCA_HITS_GREEN,THCA_HITS_BLUE,THCA_HITS_PURPLE],rows:THCA_ROWS,metric:THCA_METRIC,esTicks:THCA_ES_TICKS,metTicks:THCA_MET_TICKS},
 {sets:ESCA_SETS,es:[ESCA_ES_RED,ESCA_ES_OLIVE,ESCA_ES_GREEN,ESCA_ES_BLUE,ESCA_ES_PURPLE],hits:[ESCA_HITS_RED,ESCA_HITS_OLIVE,ESCA_HITS_GREEN,ESCA_HITS_BLUE,ESCA_HITS_PURPLE],rows:ESCA_ROWS,metric:ESCA_METRIC,esTicks:ESCA_ES_TICKS,metTicks:ESCA_MET_TICKS},
 {sets:KIRC_SETS,es:[KIRC_ES_RED,KIRC_ES_OLIVE,KIRC_ES_GREEN,KIRC_ES_BLUE,KIRC_ES_PURPLE],hits:[KIRC_HITS_RED,KIRC_HITS_OLIVE,KIRC_HITS_GREEN,KIRC_HITS_BLUE,KIRC_HITS_PURPLE],rows:KIRC_ROWS,metric:KIRC_METRIC,esTicks:KIRC_ES_TICKS,metTicks:KIRC_MET_TICKS},
 {sets:LGG_SETS,es:[LGG_ES_RED,LGG_ES_OLIVE,LGG_ES_GREEN,LGG_ES_BLUE,LGG_ES_PURPLE],hits:[LGG_HITS_RED,LGG_HITS_OLIVE,LGG_HITS_GREEN,LGG_HITS_BLUE,LGG_HITS_PURPLE],rows:LGG_ROWS,metric:LGG_METRIC,esTicks:LGG_ES_TICKS,metTicks:LGG_MET_TICKS},
 {sets:PAAD_SETS,es:[PAAD_ES_RED,PAAD_ES_OLIVE,PAAD_ES_GREEN,PAAD_ES_BLUE,PAAD_ES_PURPLE],hits:[PAAD_HITS_RED,PAAD_HITS_OLIVE,PAAD_HITS_GREEN,PAAD_HITS_BLUE,PAAD_HITS_PURPLE],rows:PAAD_ROWS,metric:PAAD_METRIC,esTicks:PAAD_ES_TICKS,metTicks:PAAD_MET_TICKS}
];

const AX_COLOR='#333333', LBL_COLOR='#4D4D4D', GRID_COLOR='#EBEBEB';
const option={animation:false,backgroundColor:'#ffffff',textStyle:{fontFamily:'Liberation Sans'},
  title:[],grid:[],xAxis:[],yAxis:[],legend:[],series:[]};

option.title.push({text:'A. GO analysis',left:2,top:-1.45,padding:0,textStyle:{fontFamily:'Liberation Serif',fontWeight:'bold',fontSize:14.5,lineHeight:14.5,color:'#000'}});
option.title.push({text:'B. KEGG analysis',left:2,top:590.85,padding:0,textStyle:{fontFamily:'Liberation Serif',fontWeight:'bold',fontSize:14.5,lineHeight:14.5,color:'#000'}});

function hitRenderer(color){
  return function(params, api){
    const s=api.value(0), e=api.value(1), r=api.value(2);
    const p1=api.coord([s,r]), p2=api.coord([e,r+1]);
    const single = s===e;
    const w = single ? 0.95 : Math.max(p2[0]-p1[0],0.95);
    const x = single ? p1[0]-0.47 : p1[0];
    const y=Math.min(p1[1],p2[1]), h=Math.abs(p2[1]-p1[1]);
    return {type:'rect',shape:{x:x,y:y,width:w,height:h},style:{fill:color,opacity:single?0.85:0.88}};
  };
}

PANELS.forEach((p,i)=>{
  const L=LAYOUT[i], W=L.right-L.left, g=3*i, n=N_GENES[i], cancer=CANCERS[i];
  option.title.push({text:'Cancer: '+cancer,left:L.left,top:L.titleTop,padding:0,textStyle:{fontFamily:'Liberation Sans',fontWeight:'normal',fontSize:6.6,lineHeight:6.6,color:'#000'}});
  option.grid.push({left:L.left,top:L.esTop,width:W,height:L.esBottom-L.esTop});
  option.grid.push({left:L.left,top:L.hitTop,width:W,height:L.hitBottom-L.hitTop});
  option.grid.push({left:L.left,top:L.metTop,width:W,height:L.metBottom-L.metTop});

  const vgrid={splitLine:{show:true,showMinLine:false,showMaxLine:false,lineStyle:{color:GRID_COLOR,width:0.6}},
    minorTick:{show:false,splitNumber:2},minorSplitLine:{show:true,lineStyle:{color:GRID_COLOR,width:0.6}}};
  // ES panel
  option.xAxis.push(Object.assign({gridIndex:g,type:'value',min:0,max:n,interval:5000,axisLine:{show:false},axisTick:{show:false},axisLabel:{show:false}},vgrid));
  option.yAxis.push({gridIndex:g,type:'value',min:L.esMin,max:L.esMax,
    axisLine:{show:true,lineStyle:{color:AX_COLOR,width:0.7}},
    axisTick:{show:true,length:1.5,customValues:p.esTicks,lineStyle:{color:AX_COLOR,width:0.6}},
    axisLabel:{customValues:p.esTicks,fontSize:4.2,color:LBL_COLOR,margin:2.3,formatter:v=>Number(v).toFixed(L.dec)},
    splitLine:{show:false},
    name:'Running Enrichment Score',nameLocation:'middle',nameGap:L.nameGap,nameTextStyle:{fontSize:5.4,color:'#1A1A1A',lineHeight:5.4}});
  // hit strips
  option.xAxis.push({gridIndex:g+1,type:'value',min:0,max:n,show:false});
  option.yAxis.push({gridIndex:g+1,type:'value',min:0,max:5,inverse:true,show:false});
  // ranked list metric
  option.xAxis.push(Object.assign({gridIndex:g+2,type:'value',min:0,max:n,interval:5000,
    axisLine:{show:true,lineStyle:{color:AX_COLOR,width:0.7}},
    axisTick:{show:true,length:1.5,customValues:X_TICKS,lineStyle:{color:AX_COLOR,width:0.6}},
    axisLabel:{customValues:X_TICKS,fontSize:4.2,color:LBL_COLOR,margin:2,formatter:v=>String(Math.round(v))},
    name:'Rank in Ordered Dataset',nameLocation:'middle',nameGap:7.2,nameTextStyle:{fontSize:5.4,color:'#1A1A1A',lineHeight:5.4}},vgrid));
  option.yAxis.push({gridIndex:g+2,type:'value',min:L.metMin,max:L.metMax,
    axisLine:{show:true,lineStyle:{color:AX_COLOR,width:0.7}},
    axisTick:{show:true,length:1.5,customValues:p.metTicks,lineStyle:{color:AX_COLOR,width:0.6}},
    axisLabel:{customValues:p.metTicks,fontSize:4.2,color:LBL_COLOR,margin:2.3,formatter:v=>String(Math.round(v))},
    splitLine:{show:false},
    name:'Ranked List Metric',nameLocation:'middle',nameGap:L.nameGap+0.3,nameTextStyle:{fontSize:5.4,color:'#1A1A1A',lineHeight:5.4}});

  const names=p.sets.map(s=>cancer+'|'+s);
  p.es.forEach((curve,k)=>{
    option.series.push({type:'line',name:names[k],xAxisIndex:g,yAxisIndex:g,data:curve,color:SET_COLORS[k],
      showSymbol:false,symbol:'none',lineStyle:{width:1.15,color:SET_COLORS[k]},z:2+k,silent:true});
  });
  p.hits.forEach((row,k)=>{
    const r=p.rows.indexOf(k);
    const data=row.map(h=>Array.isArray(h)?[h[0],h[1],r]:[h,h,r]);
    option.series.push({type:'custom',xAxisIndex:g+1,yAxisIndex:g+1,data:data,clip:true,silent:true,
      encode:{x:[0,1],y:2},renderItem:hitRenderer(SET_COLORS[k])});
  });
  option.series.push({type:'line',xAxisIndex:g+2,yAxisIndex:g+2,data:p.metric,showSymbol:false,symbol:'none',
    smooth:0.35,smoothMonotone:'x',lineStyle:{width:0.4,color:'#B5B5B5'},areaStyle:{color:'#BEBEBE',opacity:1},silent:true});

  const ts={fontSize:3.9,lineHeight:4,color:'#1A1A1A',fontFamily:'Liberation Sans'};
  if(L.legW){ts.width=L.legW;ts.overflow='truncate';ts.ellipsis='';}
  option.legend.push({orient:'vertical',left:L.legX,top:L.legY-2,padding:0,itemWidth:10,itemHeight:1.4,
    itemGap:L.legPitch-4,icon:'rect',selectedMode:false,data:names,formatter:nm=>nm.split('|')[1],textStyle:ts});
});

const chart=echarts.init(document.getElementById('c'),null,{renderer:'canvas',width:778,height:1181});
chart.setOption(option);
</script></body></html>
